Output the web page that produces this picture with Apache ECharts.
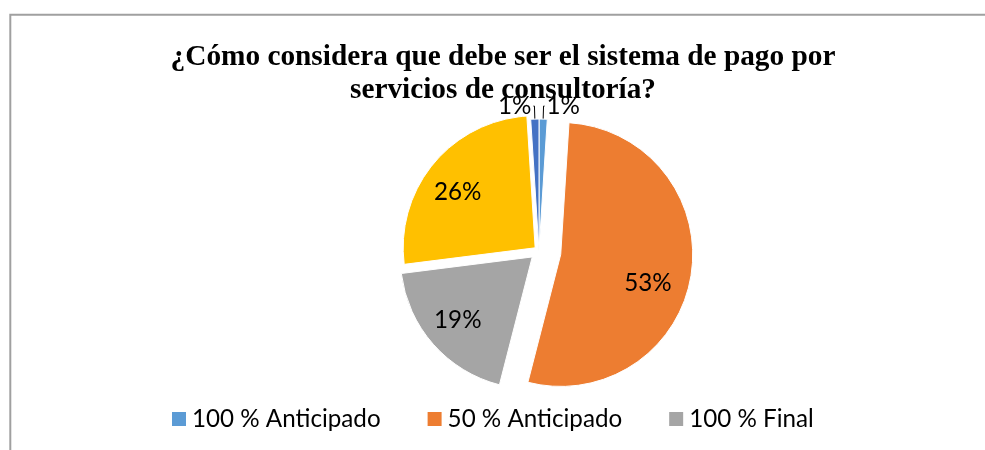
<!DOCTYPE html>
<html><head><meta charset="utf-8">
<script src="https://cdn.jsdelivr.net/npm/echarts@6/dist/echarts.min.js"></script>
<style>html,body{margin:0;padding:0;background:#fff}#c{width:985px;height:450px}</style>
</head><body><div id="c"></div>
<script>
// ---- data ----
const categories = ['100 % Anticipado', '50 % Anticipado', '100 % Final', 'Por avance', 'Otro'];
const values = [1, 53, 19, 26, 1];
const legendItems = ['100 % Anticipado', '50 % Anticipado', '100 % Final'];
const titleLines = ['¿Cómo considera que debe ser el sistema de pago por', 'servicios de consultoría?'];

// ---- styles ----
const colors = ['#5B9BD5', '#ED7D31', '#A5A5A5', '#FFC000', '#4472C4'];
const explode = [0, 22, 9, 5, 0];
const labelShift = [null, [19, 18], [-22.7, 17.4], [-24.3, -11.2], null];
const CX = 539, CY = 251, R = 132;
const TITLE_CENTER_X = 503;
const font = { fontFamily: 'Lato', fontSize: 24.2, color: '#000' };
const titleFont = { fontFamily: 'Liberation Serif', fontWeight: 'bold', fontSize: 29.3, lineHeight: 33, color: '#000' };

const total = values.reduce((a, b) => a + b, 0);
let acc = 0;
const mids = values.map(v => { const m = (acc + v / 2) / total * 2 * Math.PI; acc += v; return m; });

const layers = [[0, 4], [1], [2], [3]];
const series = layers.map(idxs => {
  const d = explode[idxs[0]], m = mids[idxs[0]];
  const inside = idxs.length === 1;
  return {
    type: 'pie',
    radius: R,
    center: [CX + d * Math.sin(m), CY - d * Math.cos(m)],
    startAngle: 90,
    clockwise: true,
    avoidLabelOverlap: false,
    percentPrecision: 0,
    animation: false,
    silent: true,
    label: inside
      ? Object.assign({ show: true, position: 'inside', formatter: '{d}%' }, font)
      : Object.assign({ show: true, position: 'outside', formatter: '{d}%', distanceToLabelLine: 2 }, font),
    labelLine: { show: !inside, length: 13, length2: 1, lineStyle: { color: '#000', width: 1 } },
    labelLayout: function (p) {
      const s = inside ? labelShift[p.dataIndex] : null;
      return s ? { dx: s[0], dy: s[1] } : {};
    },
    data: values.map((v, i) => idxs.includes(i)
      ? { name: categories[i], value: v, itemStyle: { color: colors[i], borderColor: '#fff', borderWidth: 1 } }
      : { name: categories[i], value: v, itemStyle: { color: 'rgba(0,0,0,0)', borderColor: 'rgba(0,0,0,0)', borderWidth: 0 },
          label: { show: false }, labelLine: { show: false } })
  };
});

const chart = echarts.init(document.getElementById('c'));
chart.setOption({
  backgroundColor: '#fff',
  animation: false,
  title: {
    text: titleLines.join('\n'),
    left: TITLE_CENTER_X,
    textAlign: 'center',
    top: 41,
    padding: 0,
    textStyle: titleFont
  },
  legend: {
    data: legendItems.map(n => ({ name: n, itemStyle: { color: colors[categories.indexOf(n)], borderWidth: 0, opacity: 1 } })),
    left: 172,
    top: 407,
    padding: 0,
    icon: 'rect',
    itemWidth: 14,
    itemHeight: 14,
    itemGap: 47,
    textStyle: Object.assign({ padding: [0, 0, 0, 1] }, font)
  },
  graphic: [{
    type: 'rect', silent: true, z: -10,
    shape: { x: 10.3, y: 14.8, width: 1200, height: 800 },
    style: { fill: 'none', stroke: '#a0a0a0', lineWidth: 2 }
  }],
  series: series
});
</script></body></html>
